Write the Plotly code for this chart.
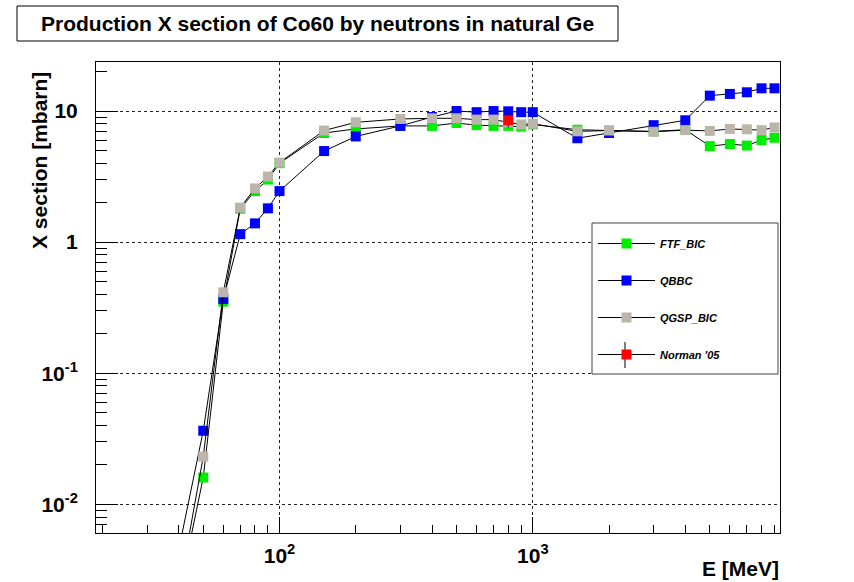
import numpy as np
import plotly.graph_objects as go

# Neutron energy points [MeV]
energy = [40, 50, 60, 70, 80, 90, 100, 150, 200, 300, 400, 500, 600, 700,
          800, 900, 1000, 1500, 2000, 3000, 4000, 5000, 6000, 7000, 8000, 9000]

# Co60 production cross sections [mbarn] per physics list
ftf_bic = [0.0020, 0.0160, 0.351, 1.80, 2.45, 3.00, 4.00, 6.80, 7.30, 7.70,
           7.70, 8.10, 7.80, 7.70, 7.70, 7.60, 7.90, 7.20, 7.10, 7.00,
           7.20, 5.40, 5.60, 5.45, 6.00, 6.25]
qbbc = [0.0045, 0.0364, 0.368, 1.15, 1.39, 1.81, 2.45, 4.95, 6.40, 7.70,
        9.00, 10.0, 9.80, 10.0, 9.95, 9.80, 9.80, 6.20, 6.80, 7.80,
        8.50, 13.1, 13.5, 13.9, 14.9, 14.9]
qgsp_bic = [0.0021, 0.0231, 0.414, 1.83, 2.57, 3.16, 4.04, 7.10, 8.20, 8.70,
            8.80, 8.80, 8.60, 8.60, 8.20, 7.90, 8.00, 7.00, 7.10, 6.95,
            7.15, 7.05, 7.30, 7.25, 7.15, 7.50]

# Measurement (Norman '05)
norman_e = [800]
norman_xs = [8.5]
norman_err = [1.0]

FIG_W, FIG_H = 854, 582
M_L, M_R, M_T, M_B = 96, 74, 62, 49
PW = FIG_W - M_L - M_R
PH = FIG_H - M_T - M_B


def px(x):
    return (x - M_L) / PW


def py(y):
    return (FIG_H - M_B - y) / PH


FONT = "Liberation Sans"

fig = go.Figure()

series = [
    ("FTF_BIC", ftf_bic, "#00ee00"),
    ("QBBC", qbbc, "#0000ff"),
    ("QGSP_BIC", qgsp_bic, "#bcb5ab"),
]
for name, vals, color in series:
    fig.add_trace(go.Scatter(
        x=energy, y=vals, name=name, legendgroup=name,
        mode="lines+markers",
        line=dict(color="black", width=1),
        marker=dict(symbol="square", size=10, color=color, line=dict(width=0)),
    ))

fig.add_trace(go.Scatter(
    x=norman_e, y=norman_xs, name="Norman '05", legendgroup="norman",
    mode="lines+markers",
    line=dict(color="black", width=1),
    marker=dict(symbol="square", size=10, color="#ff0000", line=dict(width=0)),
    error_y=dict(type="data", array=norman_err, color="black",
                 thickness=1, width=0),
))

x_minor = [m * 10.0 ** k for k in (1, 2, 3) for m in range(2, 10)]
y_minor = [m * 10.0 ** k for k in (-3, -2, -1, 0, 1) for m in range(2, 10)]

tick_font = dict(family=FONT, size=21, color="black", weight="bold")

fig.update_xaxes(
    type="log", range=[1.2755, 3.976],
    tickmode="array", tickvals=[100, 1000],
    ticktext=["10<sup>2</sup>", "10<sup>3</sup>"],
    ticks="inside", ticklen=16, tickwidth=1, tickcolor="black",
    showline=True, linecolor="black", linewidth=1, mirror=True,
    showgrid=True, gridcolor="#222", griddash="dot", gridwidth=1,
    zeroline=False, tickfont=tick_font, ticklabelstandoff=4,
    minor=dict(tickmode="array", tickvals=x_minor, ticks="inside",
               ticklen=8, tickcolor="black", showgrid=False),
)
fig.update_yaxes(
    type="log", range=[-2.219, 1.374],
    tickmode="array", tickvals=[0.01, 0.1, 1, 10],
    ticktext=["10<sup>-2</sup>", "10<sup>-1</sup>", "1", "10"],
    ticks="inside", ticklen=22, tickwidth=1, tickcolor="black",
    showline=True, linecolor="black", linewidth=1, mirror=True,
    showgrid=True, gridcolor="#222", griddash="dot", gridwidth=1,
    zeroline=False, tickfont=tick_font, ticklabelstandoff=13,
    minor=dict(tickmode="array", tickvals=y_minor, ticks="inside",
               ticklen=11, tickcolor="black", showgrid=False),
)

shapes = [
    # title frame
    dict(type="rect", xref="paper", yref="paper",
         x0=px(17), x1=px(618), y0=py(41), y1=py(6),
         line=dict(color="black", width=1), fillcolor="white", layer="below"),
    # opaque legend frame (hides the grid behind the legend)
    dict(type="rect", xref="paper", yref="paper",
         x0=px(592), x1=px(778), y0=py(374), y1=py(223),
         line=dict(color="#444", width=1), fillcolor="white", layer="above"),
    # error-bar glyph on the measurement legend entry
    dict(type="line", xref="paper", yref="paper",
         x0=px(625), x1=px(625), y0=py(368), y1=py(342),
         line=dict(color="black", width=1), layer="above"),
]

annotations = [
    dict(text="Production X section of Co60 by neutrons in natural Ge",
         xref="paper", yref="paper", x=px(317), y=py(23),
         xanchor="center", yanchor="middle", showarrow=False,
         font=dict(family=FONT, size=21, color="black", weight="bold")),
    dict(text="X section [mbarn]", xref="paper", yref="paper",
         x=px(40), y=py(161), textangle=-90,
         xanchor="center", yanchor="middle", showarrow=False,
         font=dict(family=FONT, size=21, color="black", weight="bold")),
    dict(text="E [MeV]", xref="paper", yref="paper",
         x=px(781), y=py(568), xanchor="right", yanchor="middle",
         showarrow=False,
         font=dict(family=FONT, size=21, color="black", weight="bold")),
]

fig.update_layout(
    width=FIG_W, height=FIG_H,
    margin=dict(l=M_L, r=M_R, t=M_T, b=M_B),
    paper_bgcolor="white", plot_bgcolor="white",
    shapes=shapes, annotations=annotations,
    showlegend=True,
    legend=dict(
        x=px(593), y=py(229), xanchor="left", yanchor="top",
        bgcolor="rgba(0,0,0,0)", borderwidth=0,
        tracegroupgap=18, itemwidth=57,
        font=dict(family=FONT, size=11, color="black",
                  weight="bold", style="italic"),
    ),
)

fig.write_html("out.html")
